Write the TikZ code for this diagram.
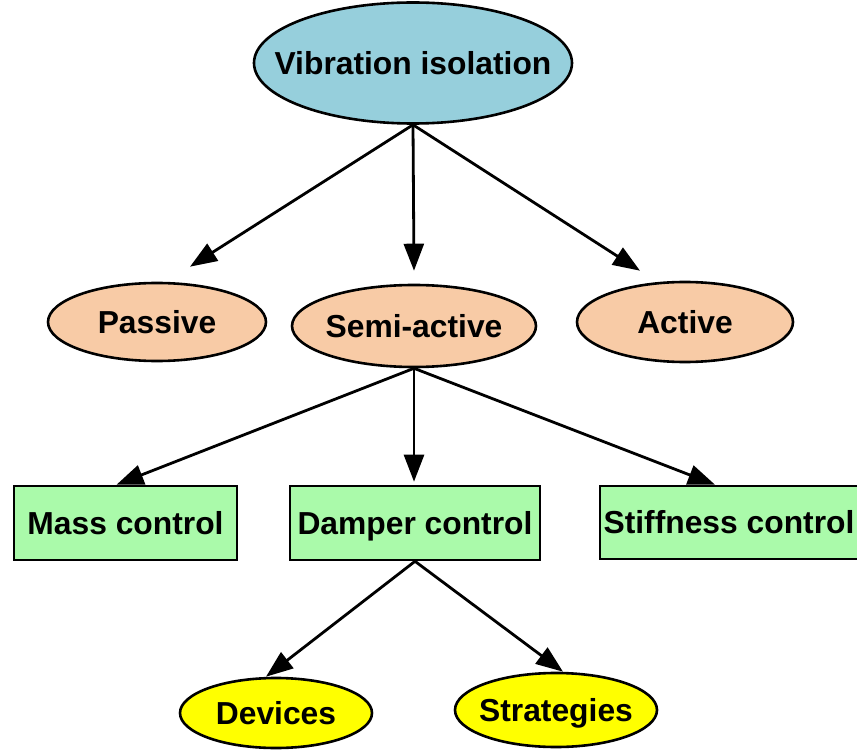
\documentclass[tikz,border=0pt]{standalone}
\usepackage{fontspec}
\setmainfont{Liberation Sans}
\usetikzlibrary{shapes.geometric,arrows.meta}
\definecolor{vibblue}{RGB}{150,207,220}
\definecolor{peach}{RGB}{248,203,166}
\definecolor{lgreen}{RGB}{170,250,170}
\definecolor{yel}{RGB}{255,255,0}
\newcommand{\lbl}[1]{\makebox[0pt]{#1}}
\begin{document}
\begin{tikzpicture}[x=1pt,y=-1pt,
  every node/.style={font=\fontsize{31.8}{36}\selectfont\bfseries, text=black, line width=2.6pt, draw=black, inner sep=0pt, text height=22.8pt, text depth=0pt},
  ell/.style={ellipse},
  boxnode/.style={rectangle},
  arr/.style={line width=2.8pt, -{Triangle[length=27pt,width=20pt]}}]
\useasboundingbox (0,0) rectangle (857,751);
\node[ell, fill=vibblue, minimum width=318, minimum height=121] (vib) at (413,63) {\lbl{Vibration isolation}};
\node[ell, fill=peach, minimum width=218, minimum height=78] (passive) at (157,322) {\lbl{Passive}};
\node[ell, fill=peach, minimum width=244, minimum height=82] (semi) at (414,326) {\lbl{Semi-active}};
\node[ell, fill=peach, minimum width=216, minimum height=80] (active) at (685,322) {\lbl{Active}};
\node[boxnode, fill=lgreen, minimum width=223, minimum height=74] (mass) at (125.5,523) {\lbl{Mass control}};
\node[boxnode, fill=lgreen, minimum width=250, minimum height=74] (damper) at (415,523) {\lbl{Damper control}};
\node[boxnode, fill=lgreen, minimum width=258, minimum height=73] (stiff) at (729,522.5) {\lbl{Stiffness control}};
\node[ell, fill=yel, minimum width=192, minimum height=70] (devices) at (276,713) {\lbl{Devices}};
\node[ell, fill=yel, minimum width=202, minimum height=74] (strat) at (556,710) {\lbl{Strategies}};
\draw[arr] (vib.south) -- ([shift={(33,-15)}]passive.north);
\draw[arr] (vib.south) -- ([shift={(0,-13)}]semi.north);
\draw[arr] (vib.south) -- ([shift={(-45,-10)}]active.north);
\draw[arr] (semi.south) -- ([shift={(-9,0)}]mass.north);
\draw[arr] (semi.south) -- ([shift={(-1,-3)}]damper.north);
\draw[arr] (semi.south) -- ([shift={(-14,0)}]stiff.north);
\draw[arr] (damper.south) -- ([shift={(-10,0)}]devices.north);
\draw[arr] (damper.south) -- ([shift={(7,0)}]strat.north);
\end{tikzpicture}
\end{document}
